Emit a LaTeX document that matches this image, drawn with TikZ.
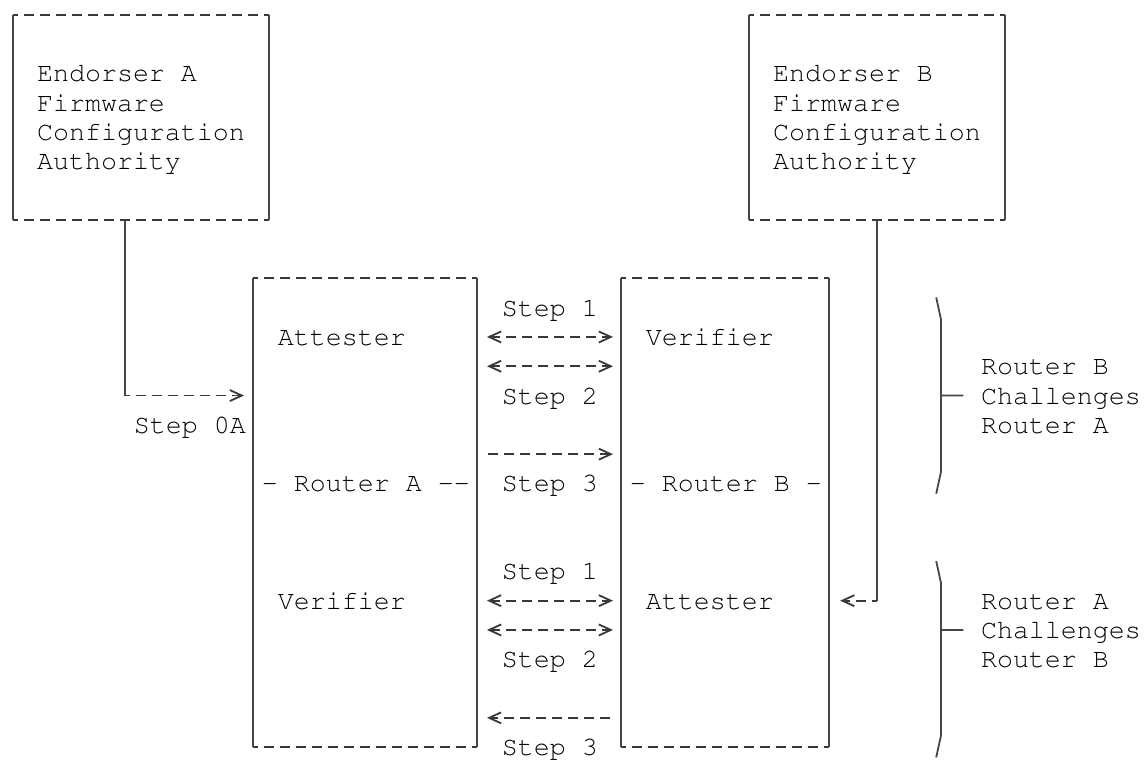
\documentclass[tikz,border=0pt]{standalone}
\usepackage{tikz}
\usetikzlibrary{arrows.meta}

\newcommand\chr{\fontencoding{OT1}\fontfamily{pcr}\fontseries{m}\fontshape{n}%
  \fontsize{13.33pt}{14.65pt}\selectfont}
\newcommand\rowstrut{\rule[-3.1pt]{0pt}{14.65pt}}

\begin{document}
\begin{tikzpicture}[
          x=8pt, y=-14.65pt, line width=0.9pt,
          hline/.style={draw=black!78, dash pattern=on 5pt off 3pt, dash phase=2.5pt},
          vline/.style={draw=black!72},
          box/.style={inner sep=0pt, outer sep=0pt, align=left, font=\chr},
          lbl/.style={inner sep=0pt, anchor=west, font=\chr,
                      text height=11.55pt, text depth=3.1pt},
          flow/.style={hline, dash phase=0pt, shorten <=5pt, shorten >=4pt},
          >={Straight Barb[length=6pt, width=5.5pt]}]
        \useasboundingbox (-0.8125,-0.5) rectangle (70.8125,25.5);
        \node[box, minimum width=128pt, minimum height=102.55pt] (endA) at (8,3.5)
              {\rowstrut Endorser A\\\rowstrut Firmware\\\rowstrut Configuration\\\rowstrut Authority};
        \node[box, minimum width=128pt, minimum height=102.55pt] (endB) at (54,3.5)
              {\rowstrut Endorser B\\\rowstrut Firmware\\\rowstrut Configuration\\\rowstrut Authority};
        \node[box, minimum width=112pt, minimum height=234.4pt] (routerA) at (22,17) {};
        \node[box, minimum width=104pt, minimum height=234.4pt] (routerB) at (44.5,17) {};
        \foreach \b in {endA, endB, routerA, routerB} {
          \draw[hline] (\b.north west) -- (\b.north east) (\b.south west) -- (\b.south east);
          \draw[vline] (\b.north west) -- (\b.south west) (\b.north east) -- (\b.south east);
        }
        \node[lbl] (attA)  at (16.5,11) {Attester};
        \node[lbl] (nameA) at (15.5,16) {- Router A -{}-};
        \node[lbl] (verA)  at (16.5,20) {Verifier};
        \node[lbl] (verB)  at (39.5,11) {Verifier};
        \node[lbl] (nameB) at (38.5,16) {- Router B -};
        \node[lbl] (attB)  at (39.5,20) {Attester};
        \node[lbl] (s0a) at (7.5,14)  {Step 0A};
        \node[lbl] (s1a) at (30.5,10) {Step 1};
        \node[lbl] (s2a) at (30.5,13) {Step 2};
        \node[lbl] (s3a) at (30.5,16) {Step 3};
        \node[lbl] (s1b) at (30.5,19) {Step 1};
        \node[lbl] (s2b) at (30.5,22) {Step 2};
        \node[lbl] (s3b) at (30.5,25) {Step 3};
        \draw[flow, <->] (routerA.east |- attA) -- (routerB.west |- attA);
        \draw[flow, <->] ([yshift=14.65pt]routerA.east |- s2a) -- ([yshift=14.65pt]routerB.west |- s2a);
        \draw[flow, ->, shorten <=5.5pt] ([yshift=14.65pt]routerA.east |- s3a) -- ([yshift=14.65pt]routerB.west |- s3a);
        \draw[flow, <->] (routerA.east |- attB) -- (routerB.west |- attB);
        \draw[flow, <->] ([yshift=14.65pt]routerA.east |- s2b) -- ([yshift=14.65pt]routerB.west |- s2b);
        \draw[flow, ->, shorten <=5.5pt, shorten >=5pt] ([yshift=14.65pt]routerB.west |- s3b) -- ([yshift=14.65pt]routerA.east |- s3b);
        \coordinate (tapA) at (7,13);
        \draw[vline] ([xshift=-8pt]endA.south) -- (tapA);
        \draw[hline, ->, shorten >=4.5pt] (tapA) -- (routerA.west |- tapA);
        \coordinate (tapB) at (54,20);
        \draw[vline] (endB.south) -- (tapB);
        \draw[hline, ->, shorten >=5.6pt] (tapB) -- (routerB.east |- tapB);
        \draw[vline] (57.7,9.65) -- (58,10.4) -- (58,15.6) -- (57.7,16.35)
                     (58,13) -- (59.4,13);
        \draw[vline] (57.7,18.65) -- (58,19.4) -- (58,24.6) -- (57.7,25.35)
                     (58,21) -- (59.4,21);
        \node[box, anchor=west] (chalB) at (60.5,13)
              {\rowstrut Router B\\\rowstrut Challenges\\\rowstrut Router A};
        \node[box, anchor=west] (chalA) at (60.5,21)
              {\rowstrut Router A\\\rowstrut Challenges\\\rowstrut Router B};
      \end{tikzpicture}
\end{document}
